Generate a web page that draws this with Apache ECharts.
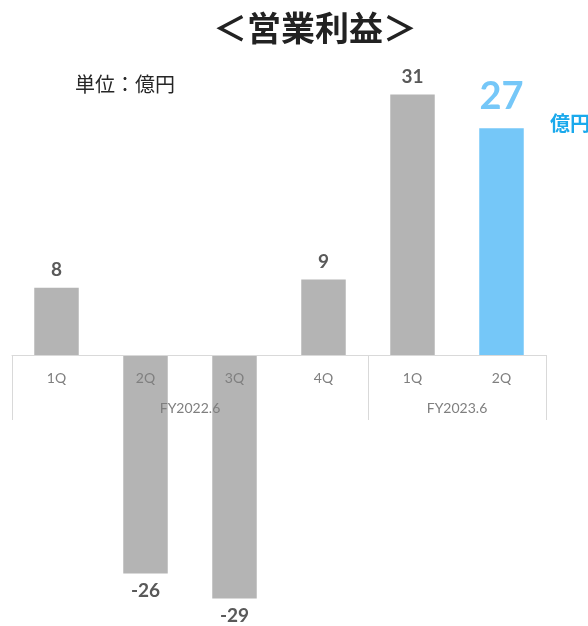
<!DOCTYPE html>
<html>
<head>
<meta charset="utf-8">
<script src="https://cdn.jsdelivr.net/npm/echarts@6/dist/echarts.min.js"></script>
<style>
  html, body { margin: 0; padding: 0; background: #ffffff; }
  #chart { width: 588px; height: 626px; }
</style>
</head>
<body>
<div id="chart"></div>
<script>
// Quarterly operating profit (億円)
const quarters = ['1Q', '2Q', '3Q', '4Q', '1Q', '2Q'];
const profit = [8, -26, -29, 9, 31, 27];
const fiscalYears = ['FY2022.6', 'FY2023.6'];
const quartersPerYear = [4, 2];
const highlightIndex = 5;

const GRAY = '#b4b4b4';
const BLUE = '#75c7f8';
const NUM_FONT = 'Lato, "Open Sans", "Noto Sans CJK JP", sans-serif';
const JP_FONT = '"Noto Sans CJK JP", "Noto Sans", sans-serif';

// Group boundaries and centres on a 0..N scale spanning the category band
const boundaries = [0];
const groupCenters = [];
quartersPerYear.forEach(n => {
  const start = boundaries[boundaries.length - 1];
  boundaries.push(start + n);
  groupCenters.push(start + n / 2);
});

const barData = profit.map((v, i) => {
  const item = { value: v };
  if (i === highlightIndex) {
    item.itemStyle = { color: BLUE };
    item.label = {
      color: BLUE, fontSize: 38, fontWeight: 'bold', distance: 12
    };
  } else if (v < 0) {
    item.label = { position: 'bottom' };
  }
  return item;
});

// The plot area ends at the zero line; negative bars hang below it (clip off)
const gridRect = { left: 12, right: 42, top: 19, bottom: 271, outerBoundsMode: 'none' };
const yRange = { min: 0, max: 40 };

const chart = echarts.init(document.getElementById('chart'), null, { renderer: 'canvas' });
chart.setOption({
  backgroundColor: '#ffffff',
  animation: false,
  title: [
    {
      text: '＜営業利益＞', left: 310, top: 6, textAlign: 'center',
      textStyle: { fontFamily: JP_FONT, fontSize: 34, fontWeight: 'bold', color: '#222222' }
    },
    {
      text: '単位：億円', left: 70, top: 69,
      textStyle: { fontFamily: JP_FONT, fontSize: 20, fontWeight: 'normal', color: '#262626' }
    },
    {
      text: '億円', left: 545, top: 108,
      textStyle: { fontFamily: JP_FONT, fontSize: 20, fontWeight: 'bold', color: '#1aa9ec' }
    }
  ],
  grid: [
    Object.assign({}, gridRect),
    Object.assign({}, gridRect)
  ],
  xAxis: [
    {
      type: 'category', gridIndex: 0, data: quarters, z: 5, position: 'bottom',
      axisLine: { onZero: false, lineStyle: { color: '#d9d9d9', width: 1 } },
      axisTick: { show: false },
      axisLabel: { color: '#7f7f7f', fontSize: 14, fontFamily: NUM_FONT, margin: 16 }
    },
    {
      type: 'value', gridIndex: 1, position: 'bottom',
      min: 0, max: boundaries[boundaries.length - 1], z: 5,
      splitLine: { show: false },
      axisLine: { show: false, onZero: false },
      axisTick: {
        show: true, length: 65, customValues: boundaries,
        lineStyle: { color: '#d9d9d9', width: 1 }
      },
      axisLabel: {
        customValues: groupCenters, color: '#7f7f7f', fontSize: 14, fontFamily: NUM_FONT, margin: 46,
        formatter: v => fiscalYears[groupCenters.indexOf(v)]
      }
    }
  ],
  yAxis: [
    { type: 'value', gridIndex: 0, min: yRange.min, max: yRange.max, show: false },
    { type: 'value', gridIndex: 1, min: yRange.min, max: yRange.max, show: false }
  ],
  series: [
    {
      type: 'bar', xAxisIndex: 0, yAxisIndex: 0, data: barData, barWidth: '50%', clip: false,
      itemStyle: { color: GRAY },
      label: {
        show: true, position: 'top', distance: 8,
        fontFamily: NUM_FONT, fontSize: 19, fontWeight: 'bold', color: '#595959'
      }
    }
  ]
});
</script>
</body>
</html>
